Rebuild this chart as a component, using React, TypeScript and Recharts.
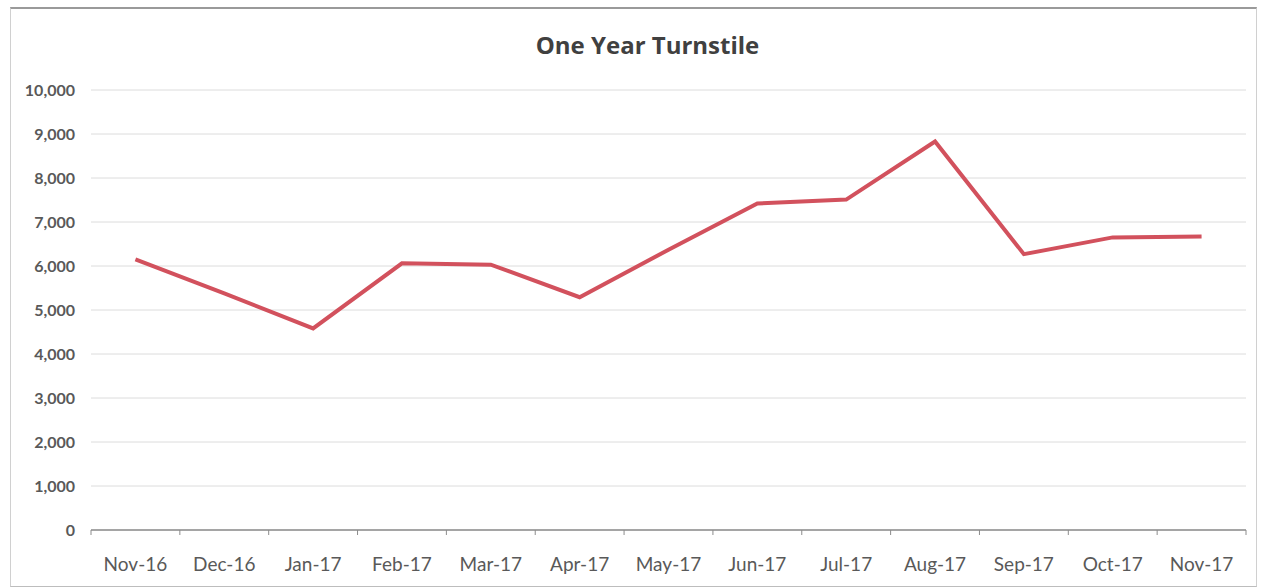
import React from 'react';
import { LineChart, Line, XAxis, YAxis, CartesianGrid } from 'recharts';

const months = [
  'Nov-16', 'Dec-16', 'Jan-17', 'Feb-17', 'Mar-17', 'Apr-17', 'May-17',
  'Jun-17', 'Jul-17', 'Aug-17', 'Sep-17', 'Oct-17', 'Nov-17',
];
const turnstile = [6150, 5380, 4580, 6060, 6030, 5290, 6370, 7420, 7510, 8830, 6270, 6650, 6670];
const yTicks = [0, 1000, 2000, 3000, 4000, 5000, 6000, 7000, 8000, 9000, 10000];

const chartData = months.map((m, i) => ({ month: m, value: turnstile[i] }));

const W = 1265;
const H = 588;
const margin = { top: 90, right: 19, bottom: 28, left: 31 };
const plotW = W - margin.left - 60 - margin.right;
const half = plotW / months.length / 2;

// Excel-style ticks sit between categories, so draw them from the label position
const MonthTick = (props: any) => {
  const { x, y, payload, index } = props;
  const last = index === months.length - 1;
  return (
    <g>
      <line x1={x - half} x2={x - half} y1={y - 8} y2={y - 3} stroke="#8c8c8c" />
      {last && <line x1={x + half} x2={x + half} y1={y - 8} y2={y - 3} stroke="#8c8c8c" />}
      <text x={x} y={y + 33} textAnchor="middle" fill="#595959" fontSize={19} fontFamily="Lato, 'Open Sans', sans-serif">
        {payload.value}
      </text>
    </g>
  );
};

const fmt = (v: number) => v.toLocaleString('en-US');

export default function App() {
  return (
    <div style={{ position: 'absolute', left: 0, top: 0, width: W, height: H, background: '#fff' }}>
      <div
        style={{
          position: 'absolute', left: 10, top: 7, width: 1245, height: 577,
          borderTop: '2px solid #9a9a9a', borderLeft: '1px solid #d0d0d0',
          borderRight: '1px solid #d0d0d0', borderBottom: '1px solid #bdbdbd',
        }}
      />
      <div
        style={{
          position: 'absolute', left: 0, width: W, top: 28, textAlign: 'center',
          fontFamily: "'Open Sans', Lato, sans-serif", fontWeight: 700, fontSize: 24, color: '#404040',
          paddingLeft: 15,
        }}
      >
        One Year Turnstile
      </div>
      <LineChart width={W} height={H} data={chartData} margin={margin} style={{ position: 'absolute', left: 0, top: 0 }}>
        <CartesianGrid vertical={false} stroke="#dcdcdc" strokeWidth={1} />
        <XAxis
          dataKey="month"
          interval={0}
          padding={{ left: half, right: half }}
          axisLine={{ stroke: '#8c8c8c', strokeWidth: 1.5 }}
          tickLine={false}
          tick={<MonthTick />}
        />
        <YAxis
          width={60}
          domain={[0, 10000]}
          ticks={yTicks}
          tickFormatter={fmt}
          axisLine={false}
          tickLine={false}
          tickMargin={10}
          tick={{ fill: '#595959', fontSize: 16, fontWeight: 700, fontFamily: "Lato, 'Open Sans', sans-serif" }}
        />
        <Line
          type="linear"
          dataKey="value"
          stroke="#d2515d"
          strokeWidth={4}
          dot={false}
          isAnimationActive={false}
        />
      </LineChart>
    </div>
  );
}
